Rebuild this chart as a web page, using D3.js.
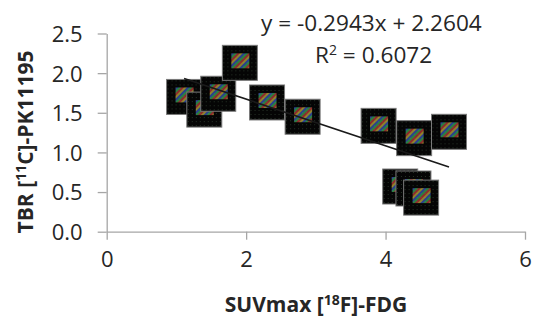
<!DOCTYPE html>
<html><head><meta charset="utf-8">
<script src="https://cdn.jsdelivr.net/npm/d3@7"></script>
<style>
html,body{margin:0;padding:0;background:#fff;}
svg{display:block;}
</style>
</head><body>
<svg id="c" width="537" height="325"></svg>
<script>
// Data
const suvmax = [1.11, 1.40, 1.60, 1.91, 2.30, 2.81, 3.90, 4.41, 4.91, 4.21, 4.40, 4.51];
const tbr    = [1.70, 1.54, 1.74, 2.13, 1.63, 1.45, 1.335, 1.18, 1.26, 0.57, 0.545, 0.43];
const xTicks = [0, 2, 4, 6];
const yTicks = [0, 0.5, 1.0, 1.5, 2.0, 2.5];
const slope = -0.2943, intercept = 2.2604, r2 = 0.6072;

const svg = d3.select("#c");
const font = "'Open Sans', 'Liberation Sans', sans-serif";
const x = d3.scaleLinear().domain([0, 6]).range([106.7, 525]);
const y = d3.scaleLinear().domain([0, 2.5]).range([231.7, 33.5]);

// patterns
const defs = svg.append("defs");
const stripes = defs.append("pattern").attr("id","stripes").attr("patternUnits","userSpaceOnUse")
  .attr("width",8).attr("height",8).attr("patternTransform","rotate(45)");
const sc = ["#c83a3a","#c8b43a","#3a5ac8","#3ab45a"];
sc.forEach((c,i)=>stripes.append("rect").attr("x",i*2).attr("y",0).attr("width",2).attr("height",8).attr("fill",c));
const dots = defs.append("pattern").attr("id","dots").attr("patternUnits","userSpaceOnUse")
  .attr("width",4).attr("height",4);
dots.append("rect").attr("width",4).attr("height",4).attr("fill","#050505");
dots.append("rect").attr("x",1).attr("y",1).attr("width",1).attr("height",1).attr("fill","#263226");

// axes
const ax = svg.append("g").attr("transform",`translate(0,${y(0)})`)
  .call(d3.axisBottom(x).tickValues(xTicks).tickSize(8).tickSizeOuter(0).tickPadding(12).tickFormat(d3.format("d")));
const ay = svg.append("g").attr("transform",`translate(${x(0)},0)`)
  .call(d3.axisLeft(y).tickValues(yTicks).tickSize(9).tickSizeOuter(0).tickPadding(15).tickFormat(d3.format(".1f")));
[ax, ay].forEach(g=>{
  g.selectAll("path,line").attr("stroke","#a6a6a6").attr("stroke-width",1.3);
  g.selectAll("text").attr("fill","#262626").style("font-family",font).style("font-size","22px");
});
ay.selectAll("text").attr("dy","0.36em");

// markers
const S = 35;
const m = svg.append("g").selectAll("g").data(suvmax.map((v,i)=>[v,tbr[i]])).join("g")
  .attr("transform",d=>`translate(${x(d[0])-S/2},${y(d[1])-S/2})`);
m.append("rect").attr("width",S).attr("height",S).attr("fill","url(#dots)").attr("stroke","#7a7a7a").attr("stroke-width",1);
m.append("rect").attr("x",9).attr("y",8).attr("width",18).attr("height",15).attr("fill","url(#stripes)").attr("opacity",0.7);

// trendline
const xr = d3.extent(suvmax);
svg.append("line")
  .attr("x1",x(xr[0])).attr("y1",y(slope*xr[0]+intercept))
  .attr("x2",x(xr[1])).attr("y2",y(slope*xr[1]+intercept))
  .attr("stroke","#1a1a1a").attr("stroke-width",1.6);

// equation
const eq = svg.append("g").style("font-family",font).style("font-size","22.6px").attr("fill","#262626");
eq.append("text").attr("x",261).attr("y",31).text(`y = ${slope}x + ${intercept}`);
const t2 = eq.append("text").attr("x",315).attr("y",63);
t2.append("tspan").text("R");
t2.append("tspan").attr("dy",-8).style("font-size","14px").text("2");
t2.append("tspan").attr("dy",8).text(` = ${r2}`);

// axis titles
const xt = svg.append("text").attr("x",316).attr("y",312).attr("text-anchor","middle")
  .style("font-family",font).style("font-size","21px").style("font-weight","bold").attr("fill","#262626");
xt.append("tspan").text("SUVmax [");
xt.append("tspan").attr("dy",-7).style("font-size","14px").text("18");
xt.append("tspan").attr("dy",7).text("F]-FDG");

const yt = svg.append("text").attr("transform","translate(33,142) rotate(-90)").attr("text-anchor","middle")
  .style("font-family",font).style("font-size","21px").style("font-weight","bold").attr("fill","#262626");
yt.append("tspan").text("TBR [");
yt.append("tspan").attr("dy",-7).style("font-size","14px").text("11");
yt.append("tspan").attr("dy",7).text("C]-PK11195");
</script>
</body></html>
